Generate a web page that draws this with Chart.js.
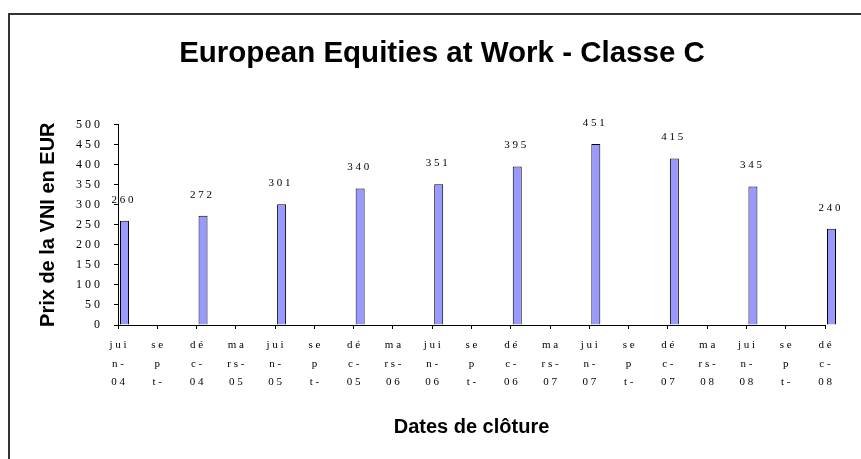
<!DOCTYPE html>
<html lang="fr">
<head>
    <meta charset="UTF-8">
    <title>European Equities at Work - Classe C</title>
    <script src="https://cdn.jsdelivr.net/npm/chart.js"></script>
    <style>
        html, body { margin: 0; padding: 0; background: #fff; overflow: hidden; }
        #frame {
            position: absolute; left: 8px; top: 13px;
            width: 900px; height: 500px;
            border: 2px solid #333;
        }
        #wrap { position: absolute; left: 0; top: 0; width: 861px; height: 459px; }
    </style>
</head>
<body>
    <div id="frame"></div>
    <div id="wrap"><canvas id="navChart" width="861" height="459"></canvas></div>

    <script>
        // libellés des dates (tels qu'ils apparaissent, coupés sur 3 lignes)
        var categories = [
            ["jui", "n-", "04"], ["se", "p", "t-"], ["dé", "c-", "04"], ["ma", "rs-", "05"],
            ["jui", "n-", "05"], ["se", "p", "t-"], ["dé", "c-", "05"], ["ma", "rs-", "06"],
            ["jui", "n-", "06"], ["se", "p", "t-"], ["dé", "c-", "06"], ["ma", "rs-", "07"],
            ["jui", "n-", "07"], ["se", "p", "t-"], ["dé", "c-", "07"], ["ma", "rs-", "08"],
            ["jui", "n-", "08"], ["se", "p", "t-"], ["dé", "c-", "08"]
        ];
        // prix de la VNI (EUR)
        var navValues = [260, null, 272, null, 301, null, 340, null, 351, null,
                         395, null, 451, null, 415, null, 345, null, 240];
        var yMin = 0;
        var yMax = 500;
        var yStep = 50;

        function spaced(s) {
            return String(s).split("").join(" ");
        }

        // étiquettes de valeur au-dessus des barres
        var valueLabels = {
            id: "valueLabels",
            afterDatasetsDraw: function(chart) {
                var ctx = chart.ctx;
                var meta = chart.getDatasetMeta(1);
                ctx.save();
                ctx.font = "11px 'Liberation Serif'";
                ctx.fillStyle = "#000";
                ctx.textAlign = "center";
                ctx.textBaseline = "middle";
                meta.data.forEach(function(bar, i) {
                    var v = navValues[i];
                    if (v === null) return;
                    ctx.fillText(spaced(v), bar.x - 2, bar.y - 21);
                });
                ctx.restore();
            }
        };

        var ctx = document.getElementById("navChart").getContext("2d");

        var chart = new Chart(ctx, {
            type: "bar",
            data: {
                labels: categories,
                datasets: [
                    { label: "", data: [] },
                    {
                        label: "VNI",
                        data: navValues,
                        backgroundColor: "#9999FF",
                        borderColor: "#000",
                        borderWidth: 1,
                        clip: false
                    }
                ]
            },
            options: {
                responsive: false,
                animation: false,
                categoryPercentage: 0.66,
                barPercentage: 0.694,
                layout: { padding: { left: 23, right: 0, top: 0, bottom: 0 } },
                plugins: {
                    legend: { display: false },
                    tooltip: { enabled: false },
                    title: {
                        display: true,
                        text: "European Equities at Work - Classe C",
                        color: "#000",
                        font: { family: "'Liberation Sans', Arial", size: 29.5, weight: "bold" },
                        padding: { top: 36, bottom: 53 }
                    }
                },
                scales: {
                    x: {
                        offset: false,
                        grid: { display: true, offset: false, drawOnChartArea: false, drawTicks: true, tickLength: 4, color: "#000" },
                        border: { display: true, color: "#000", width: 1 },
                        ticks: {
                            color: "#000",
                            autoSkip: false,
                            maxRotation: 0,
                            padding: 7,
                            font: { family: "'Liberation Serif'", size: 11, lineHeight: 1.68 },
                            callback: function(value, index) {
                                return categories[index].map(spaced);
                            }
                        },
                        title: {
                            display: true,
                            text: "Dates de clôture",
                            color: "#000",
                            font: { family: "'Liberation Sans', Arial", size: 20, weight: "bold" },
                            padding: { top: 0, bottom: 20 }
                        },
                        afterFit: function(scale) { scale.height = 134; }
                    },
                    y: {
                        min: yMin,
                        max: yMax,
                        grid: { display: true, drawOnChartArea: false, drawTicks: true, tickLength: 4, color: "#000" },
                        border: { display: true, color: "#000", width: 1 },
                        ticks: {
                            stepSize: yStep,
                            color: "#000",
                            padding: 14,
                            font: { family: "'Liberation Serif'", size: 12 },
                            callback: function(value) { return spaced(value); }
                        },
                        title: {
                            display: true,
                            text: "Prix de la VNI en EUR",
                            color: "#000",
                            font: { family: "'Liberation Sans', Arial", size: 20, weight: "bold" },
                            padding: { top: 13, bottom: 0 }
                        },
                        afterFit: function(scale) { scale.width = 95; }
                    },
                    // axe vide à droite pour réserver la marge
                    y2: {
                        position: "right",
                        display: true,
                        grid: { display: false },
                        border: { display: false },
                        ticks: { display: false },
                        afterFit: function(scale) { scale.width = 36; }
                    }
                }
            },
            plugins: [valueLabels]
        });
    </script>
</body>
</html>
